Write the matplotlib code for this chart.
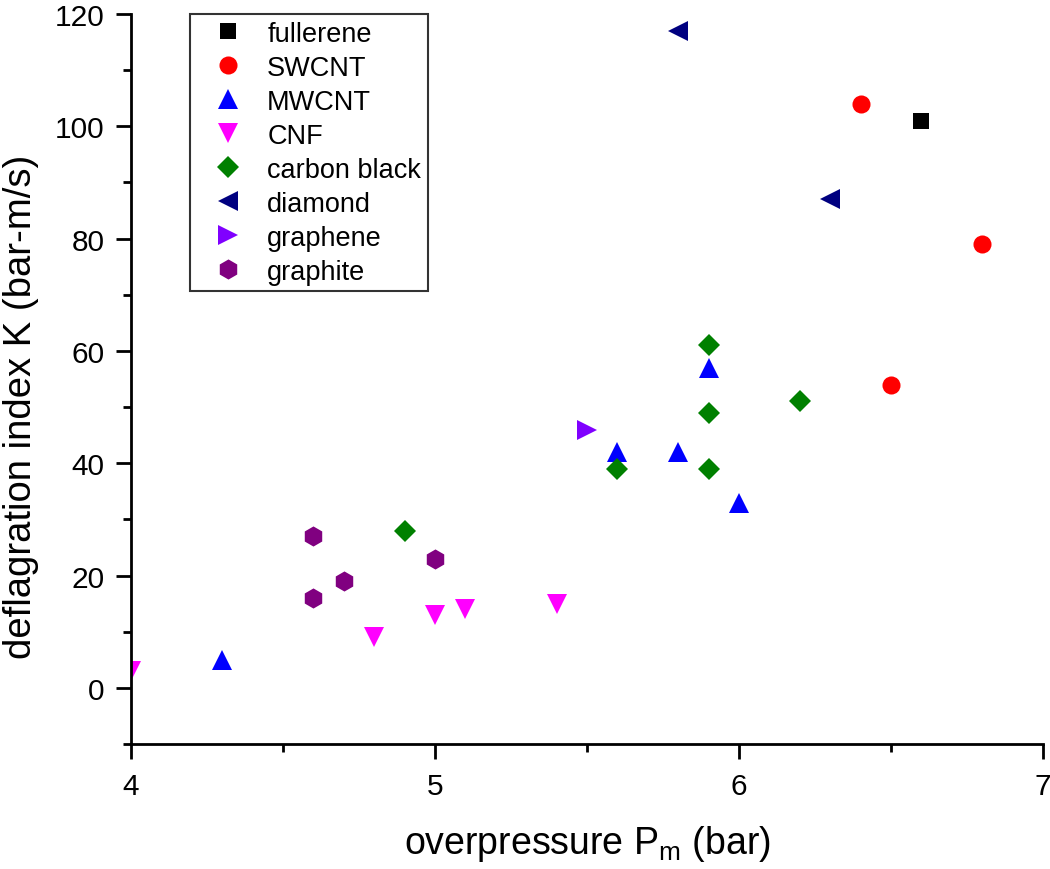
import numpy as np
import matplotlib.pyplot as plt
from matplotlib.ticker import MultipleLocator

plt.rcParams['font.family'] = ['Liberation Sans', 'DejaVu Sans']

# overpressure Pm (bar) and deflagration index K (bar-m/s) per material
fullerene_x = [6.6]
fullerene_y = [101]
swcnt_x = [6.4, 6.8, 6.5]
swcnt_y = [104, 79, 54]
mwcnt_x = [4.3, 5.6, 5.8, 5.9, 6.0]
mwcnt_y = [5, 42, 42, 57, 33]
cnf_x = [4.0, 4.8, 5.0, 5.1, 5.4]
cnf_y = [3, 9, 13, 14, 15]
cblack_x = [4.9, 5.6, 5.9, 5.9, 5.9, 6.2]
cblack_y = [28, 39, 61, 49, 39, 51]
diamond_x = [5.8, 6.3]
diamond_y = [117, 87]
graphene_x = [5.5]
graphene_y = [46]
graphite_x = [4.6, 4.6, 4.7, 5.0]
graphite_y = [27, 16, 19, 23]

series = [
    ('fullerene', fullerene_x, fullerene_y, 's', 'black', 12),
    ('SWCNT', swcnt_x, swcnt_y, 'o', 'red', 13),
    ('MWCNT', mwcnt_x, mwcnt_y, '^', 'blue', 15),
    ('CNF', cnf_x, cnf_y, 'v', 'magenta', 15),
    ('carbon black', cblack_x, cblack_y, 'D', 'green', 11),
    ('diamond', diamond_x, diamond_y, '<', 'navy', 15),
    ('graphene', graphene_x, graphene_y, '>', '#8000ff', 15),
    ('graphite', graphite_x, graphite_y, 'h', 'purple', 14.5),
]

fig = plt.figure(figsize=(10.5, 8.7), dpi=100)
ax = fig.add_axes([0.1248, 0.1437, 0.8685, 0.8391])

for name, x, y, m, c, ms in series:
    ax.plot(x, y, linestyle='none', marker=m, color=c, markersize=ms,
            markeredgewidth=0, label=name)

ax.set_xlim(4, 7)
ax.set_ylim(-10, 120)
ax.xaxis.set_major_locator(MultipleLocator(1))
ax.xaxis.set_minor_locator(MultipleLocator(0.5))
ax.yaxis.set_major_locator(MultipleLocator(20))
ax.yaxis.set_minor_locator(MultipleLocator(10))

ax.spines['top'].set_visible(False)
ax.spines['right'].set_visible(False)
for s in ['left', 'bottom']:
    ax.spines[s].set_linewidth(2)

ax.tick_params(axis='x', which='major', direction='out', length=11, width=2,
               labelsize=21.5, pad=9)
ax.tick_params(axis='x', which='minor', direction='out', length=6, width=2)
ax.tick_params(axis='y', which='major', direction='out', length=11, width=2,
               labelsize=21.5, pad=8)
ax.tick_params(axis='y', which='minor', direction='out', length=6, width=2)

ax.set_xlabel('overpressure P$_\\mathregular{m}$ (bar)', fontsize=27)
ax.xaxis.set_label_coords(0.5, -0.108)
ax.set_ylabel('deflagration index K (bar-m/s)', fontsize=27.5)
ax.yaxis.set_label_coords(-0.101, 0.463)

leg = ax.legend(loc='upper left', bbox_to_anchor=(0.0647, 1.0), fontsize=19.5,
                frameon=True, fancybox=False, edgecolor='black',
                borderpad=0.25, labelspacing=0.295, handlelength=2.31,
                handletextpad=0.29, borderaxespad=0.0)
leg.get_frame().set_linewidth(1.5)

plt.savefig('out.png', dpi=100)
plt.close()
